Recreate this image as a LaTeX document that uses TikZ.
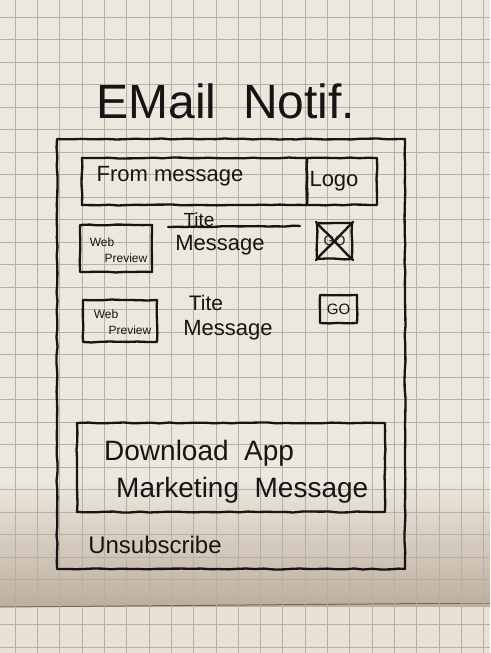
\documentclass[tikz,border=0pt]{standalone}
\usepackage{fontspec}
\setmainfont{Liberation Sans}
\usetikzlibrary{decorations.pathmorphing}
\definecolor{paper}{RGB}{236,232,222}
\definecolor{paperdark}{RGB}{190,174,156}
\definecolor{paperlow}{RGB}{232,226,214}
\definecolor{gridline}{RGB}{180,176,172}
\definecolor{ink}{RGB}{22,20,20}
\tikzset{
  ink/.style={draw=ink, line width=2.3pt, line join=round, line cap=round,
    decorate, decoration={random steps, segment length=9pt, amplitude=0.5pt}},
  box/.style={ink, rectangle, inner sep=0pt},
  hand/.style={text=ink, inner sep=0pt, font=#1},
  hand/.default={\fontsize{22}{24}\selectfont},
}
\begin{document}
\begin{tikzpicture}[x=1pt, y=-1pt]
\pgfmathsetseed{7}
\useasboundingbox (0,0) rectangle (490,653);
% paper: upper sheet darkens towards the fold, lower sheet below it
\fill[paper] (0,0) rectangle (490,480);
\shade[top color=paper, bottom color=paperdark] (0,480) rectangle (490,607);
\fill[paperlow] (0,607) rectangle (490,653);
\draw[paperdark!60!black, line width=1pt] (0,607) -- (490,603);
% grid
\foreach \i in {0,...,21}
  \draw[gridline, line width=0.6pt] ({15.1+22.3*\i},0) -- ({15.1+22.3*\i},653);
\foreach \j in {0,...,28}
  \draw[gridline, line width=0.6pt] (0,{17+22.5*\j}) -- (490,{17+22.5*\j});

% heading
\node[hand={\fontsize{48}{52}\selectfont}] (title) at (226,101) {EMail \ Notif.};

% email frame
\node[box, minimum width=348pt, minimum height=430pt] (frame) at (231,354) {};

% header: sender and logo
\node[box, minimum width=225pt, minimum height=47pt] (from) at (194.5,181.5) {};
\node[box, minimum width=70pt, minimum height=47pt] (logo) at (342,181.5) {};
\node[hand] (fromtext) at (170,176) {From message};
\node[hand] (logotext) at (334,181) {Logo};

% first item
\node[box, minimum width=72pt, minimum height=47pt] (web1) at (116,248.5) {};
\node[hand={\fontsize{12}{13}\selectfont}] (web1a) at (102,242) {Web};
\node[hand={\fontsize{12}{13}\selectfont}] (web1b) at (126,258) {Preview};
\node[hand={\fontsize{19}{21}\selectfont}] (tite1) at (199,220) {Tite};
\coordinate (strikeA) at (168,227);
\coordinate (strikeB) at (300,226);
\draw[ink] (strikeA) -- (strikeB);
\node[hand] (msg1) at (220,245) {Message};
\node[box, minimum width=35pt, minimum height=36pt] (go1) at (334.5,241) {};
\node[hand={\fontsize{14}{15}\selectfont}] (go1text) at (go1) {GO};
\draw[ink] (go1.north west) -- (go1.south east);
\draw[ink] (go1.south west) -- (go1.north east);

% second item
\node[box, minimum width=74pt, minimum height=42pt] (web2) at (120,321) {};
\node[hand={\fontsize{12}{13}\selectfont}] (web2a) at (106,314) {Web};
\node[hand={\fontsize{12}{13}\selectfont}] (web2b) at (130,330) {Preview};
\node[hand={\fontsize{21}{23}\selectfont}] (tite2) at (206,303) {Tite};
\node[hand] (msg2) at (228,330) {Message};
\node[box, minimum width=37pt, minimum height=28pt] (go2) at (338.5,309) {};
\node[hand={\fontsize{15}{16}\selectfont}] (go2text) at (go2) {GO};

% app promotion
\node[box, minimum width=308pt, minimum height=89pt] (app) at (231,467.5) {};
\node[hand={\fontsize{28}{30}\selectfont}, anchor=west] (apptext) at (104,453) {Download \ App};
\node[hand={\fontsize{28}{30}\selectfont}, anchor=west] (mkttext) at (116,490) {Marketing \ Message};

% footer
\node[hand={\fontsize{24}{26}\selectfont}] (unsub) at (155,545) {Unsubscribe};
\end{tikzpicture}
\end{document}
